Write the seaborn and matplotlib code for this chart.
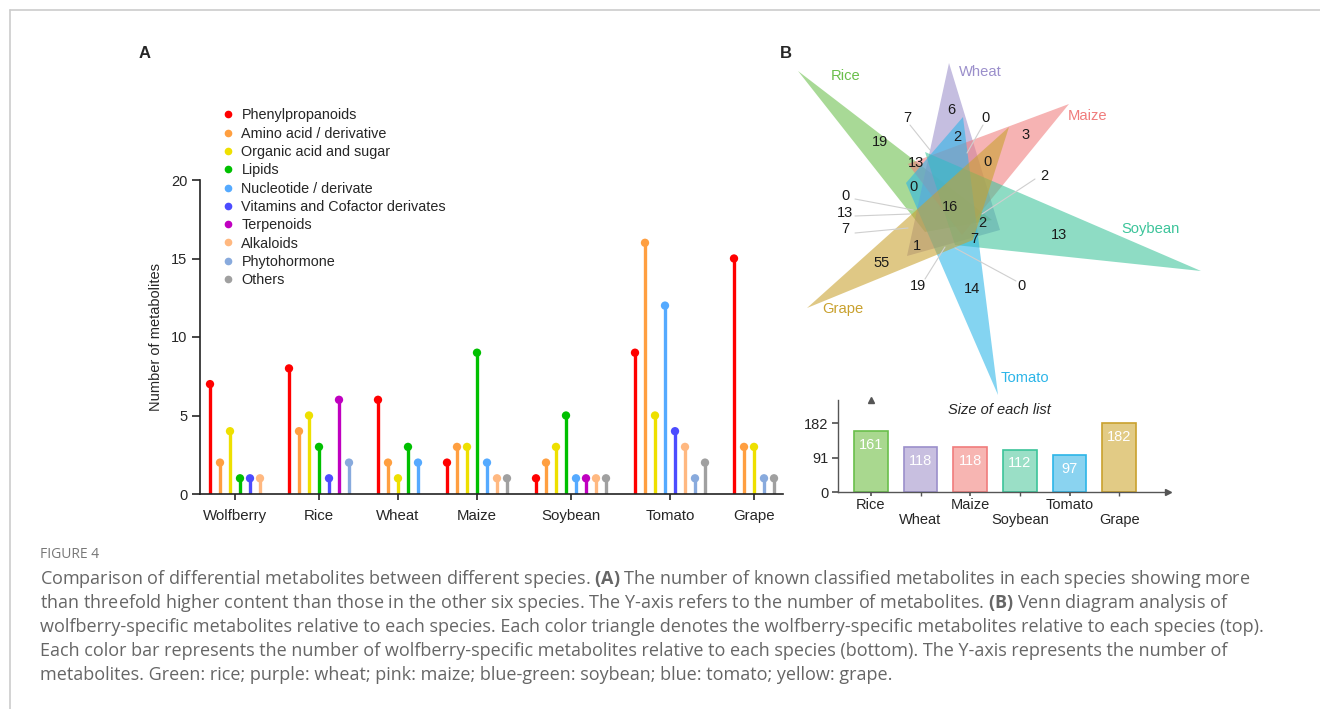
import numpy as np
import pandas as pd
import seaborn as sns
import matplotlib.pyplot as plt
from matplotlib.lines import Line2D

# ---------------- data ----------------
species = ["Wolfberry", "Rice", "Wheat", "Maize", "Soybean", "Tomato", "Grape"]
classes = ["Phenylpropanoids", "Amino acid / derivative", "Organic acid and sugar", "Lipids",
           "Nucleotide / derivate", "Vitamins and Cofactor derivates", "Terpenoids",
           "Alkaloids", "Phytohormone", "Others"]
class_colors = ["#FF0000", "#FF9F40", "#EEE000", "#00C000", "#55AAFF",
                "#4C4CFF", "#C000C0", "#FFB880", "#88AADD", "#A0A0A0"]

# counts per class (same order as classes), 0 = not shown
wolfberry = [7, 2, 4, 1, 0, 1, 0, 1, 0, 0]
rice = [8, 4, 5, 3, 0, 1, 6, 0, 2, 0]
wheat = [6, 2, 1, 3, 2, 0, 0, 0, 0, 0]
maize = [2, 3, 3, 9, 2, 0, 0, 1, 0, 1]
soybean = [1, 2, 3, 5, 1, 0, 1, 1, 0, 1]
tomato = [9, 16, 5, 0, 12, 4, 0, 3, 1, 2]
grape = [15, 3, 3, 0, 0, 0, 0, 0, 1, 1]

venn_sets = ["Rice", "Wheat", "Maize", "Soybean", "Tomato", "Grape"]
venn_colors = ["#6ABF4B", "#9B8FCB", "#F07C7C", "#3CC49A", "#2CB5E8", "#C9A12E"]
bar_fill = ["#A9D88F", "#C8BFE0", "#F7B5B2", "#9ADFC6", "#8AD3F0", "#E2CB85"]
list_sizes = [161, 118, 118, 112, 97, 182]
venn_counts = [19, 7, 6, 0, 2, 3, 13, 0, 2, 0, 16, 0, 13, 7, 2, 7, 13, 1, 55, 19, 14, 0]

# ---------------- layout of the Venn (image pixel frame) ----------------
tri = {
    "Rice": [(798, 71), (992, 220), (925, 232)],
    "Wheat": [(949, 63), (1000, 230), (907, 256)],
    "Maize": [(1069, 104), (962, 235), (908, 164)],
    "Soybean": [(1201, 271), (955, 245), (925, 152)],
    "Tomato": [(998, 395), (906, 183), (963, 117)],
    "Grape": [(807, 308), (973, 240), (1009, 127)],
}
set_label_xy = [(846, 76), (980, 72), (1088, 116), (1151, 229), (1025, 378), (843, 309)]
count_xy = [(880, 142), (907, 118), (951, 110), (986, 118), (957, 137), (1026, 135),
            (916, 163), (987, 162), (1044, 176), (913, 187), (950, 207), (845, 196),
            (845, 213), (845, 229), (982, 223), (974, 239), (1059, 235), (917, 246),
            (882, 263), (918, 286), (972, 289), (1022, 286)]
leaders = [((910, 125), (930, 150)), ((983, 125), (967, 153)), ((1035, 179), (982, 214)),
           ((855, 199), (913, 210)), ((855, 216), (910, 214)), ((855, 233), (908, 228)),
           ((925, 279), (945, 247)), ((1016, 281), (955, 248))]

sns.set_theme(style="ticks")
plt.rcParams["font.family"] = ["Liberation Sans", "DejaVu Sans"]
plt.rcParams["mathtext.fontset"] = "custom"
plt.rcParams["mathtext.rm"] = "Open Sans"
plt.rcParams["mathtext.bf"] = "Open Sans:bold"

W, H = 1320, 709
fig = plt.figure(figsize=(W / 100, H / 100), dpi=100)


def px_axes(x0, y0, x1, y1):
    return fig.add_axes([x0 / W, 1 - y1 / H, (x1 - x0) / W, (y1 - y0) / H])


# ---------------- panel A ----------------
rows = []
centers = []
pos = 0.0
for sp, vals in zip(species, [wolfberry, rice, wheat, maize, soybean, tomato, grape]):
    xs = []
    for cls, v in zip(classes, vals):
        if v > 0:
            rows.append((sp, cls, pos, v))
            xs.append(pos)
            pos += 1
    centers.append((xs[0] + xs[-1]) / 2)
    pos += 1.9
df = pd.DataFrame(rows, columns=["species", "cls", "x", "n"])
pal = dict(zip(classes, class_colors))

ax = px_axes(200, 180, 783, 494)
ax.vlines(df["x"], 0, df["n"], colors=df["cls"].map(pal), lw=2.4, zorder=2)
sns.scatterplot(data=df, x="x", y="n", hue="cls", palette=pal, s=36, linewidth=0,
                legend=False, ax=ax, zorder=3, clip_on=False)
ax.set_xlim(-1, 57.3)
ax.set_ylim(0, 20)
ax.set_yticks([0, 5, 10, 15, 20])
ax.set_xticks(centers)
ax.set_xticklabels(species)
ax.set_xlabel("")
ax.set_ylabel("Number of metabolites", fontsize=10.5, labelpad=6)
ax.tick_params(axis="y", length=6, width=1.2, labelsize=10.5, pad=3)
ax.tick_params(axis="x", length=4, width=1.2, labelsize=10.8, pad=7)
for s in ["top", "right"]:
    ax.spines[s].set_visible(False)
for s in ["left", "bottom"]:
    ax.spines[s].set_linewidth(1.2)
    ax.spines[s].set_color("#222222")

handles = [Line2D([], [], marker="o", ls="", color=c, markersize=4.5) for c in class_colors]
fig.legend(handles, classes, loc="upper left", bbox_to_anchor=(214 / W, 1 - 101 / H),
           frameon=False, fontsize=10.4, handletextpad=0.4, labelspacing=0.30,
           handlelength=1.0, borderpad=0)

fig.text(145 / W, 1 - 53 / H, "A", fontsize=12, fontweight="bold", ha="center", va="center")
fig.text(786 / W, 1 - 53 / H, "B", fontsize=12, fontweight="bold", ha="center", va="center")

# ---------------- panel B: Venn ----------------
av = px_axes(780, 40, 1220, 400)
av.set_xlim(780, 1220)
av.set_ylim(400, 40)
av.axis("off")
for name, col in zip(venn_sets, venn_colors):
    pts = np.array(tri[name])
    av.fill(pts[:, 0], pts[:, 1], color=col, alpha=0.58, lw=0)
for (a, b) in leaders:
    av.plot([a[0], b[0]], [a[1], b[1]], color="#CFCFCF", lw=0.8, zorder=4)
for val, (x, y) in zip(venn_counts, count_xy):
    av.text(x, y, str(val), ha="center", va="center", fontsize=10.5, color="#1a1a1a", zorder=5)
for name, col, (x, y) in zip(venn_sets, venn_colors, set_label_xy):
    av.text(x, y, name, ha="center", va="center", fontsize=10.6, color=col)

# ---------------- panel B: list sizes ----------------
ab = px_axes(838, 400, 1168, 492)
sns.barplot(x=venn_sets, y=list_sizes, hue=venn_sets, palette=bar_fill, legend=False,
            width=0.68, ax=ab, saturation=1)
for p, ec in zip(ab.patches, venn_colors):
    p.set_edgecolor(ec)
    p.set_linewidth(1.2)
for i, v in enumerate(list_sizes):
    ab.annotate(str(v), (i, v), xytext=(0, -10), textcoords="offset points",
                ha="center", va="center", color="white", fontsize=10.5)
ab.set_xlim(-0.66, 5.98)
ab.set_ylim(0, 243)
ab.set_yticks([0, 91, 182])
ab.set_xticks([0, 2, 4])
ab.set_xticklabels([venn_sets[0], venn_sets[2], venn_sets[4]])
ab.set_xticks([1, 3, 5], minor=True)
ab.set_xticklabels([venn_sets[1], venn_sets[3], venn_sets[5]], minor=True)
ab.tick_params(axis="x", which="major", length=3, pad=1, labelsize=10.5, color="#555555")
ab.tick_params(axis="x", which="minor", length=3, pad=12, labelsize=10.5, color="#555555")
ab.tick_params(axis="y", length=4, pad=3, labelsize=10.5, color="#555555")
for s in ["top", "right"]:
    ab.spines[s].set_visible(False)
for s in ["left", "bottom"]:
    ab.spines[s].set_color("#555555")
    ab.spines[s].set_linewidth(1.0)
ab.plot(1, 0, ">", color="#555555", ms=5, transform=ab.get_yaxis_transform(), clip_on=False)
ab.plot(0, 1, "^", color="#555555", ms=5, transform=ab.get_xaxis_transform(), clip_on=False)
ab.text(0.49, 0.89, "Size of each list", transform=ab.transAxes, ha="center", va="center",
        fontsize=10.5, style="italic")
ab.set_xlabel("")
ab.set_ylabel("")

# ---------------- caption and frame ----------------
fig.add_artist(Line2D([10 / W, 1], [1 - 10 / H, 1 - 10 / H], color="#CCCCCC", lw=1.2))
fig.add_artist(Line2D([10 / W, 10 / W], [1 - 10 / H, 0], color="#CCCCCC", lw=1.2))

fig.text(40 / W, 1 - 555 / H, "FIGURE 4", fontsize=10, color="#777777", va="center",
         family="Open Sans")
caption = [
    r"Comparison of differential metabolites between different species. $\mathbf{(A)}$ The number of known classified metabolites in each species showing more",
    r"than threefold higher content than those in the other six species. The Y-axis refers to the number of metabolites. $\mathbf{(B)}$ Venn diagram analysis of",
    "wolfberry-specific metabolites relative to each species. Each color triangle denotes the wolfberry-specific metabolites relative to each species (top).",
    "Each color bar represents the number of wolfberry-specific metabolites relative to each species (bottom). The Y-axis represents the number of",
    "metabolites. Green: rice; purple: wheat; pink: maize; blue-green: soybean; blue: tomato; yellow: grape.",
]
for k, line in enumerate(caption):
    fig.text(40 / W, 1 - (579 + 24 * k) / H, line, fontsize=13, color="#666666",
             va="center", family="Open Sans")

fig.savefig("out.png", dpi=100)
